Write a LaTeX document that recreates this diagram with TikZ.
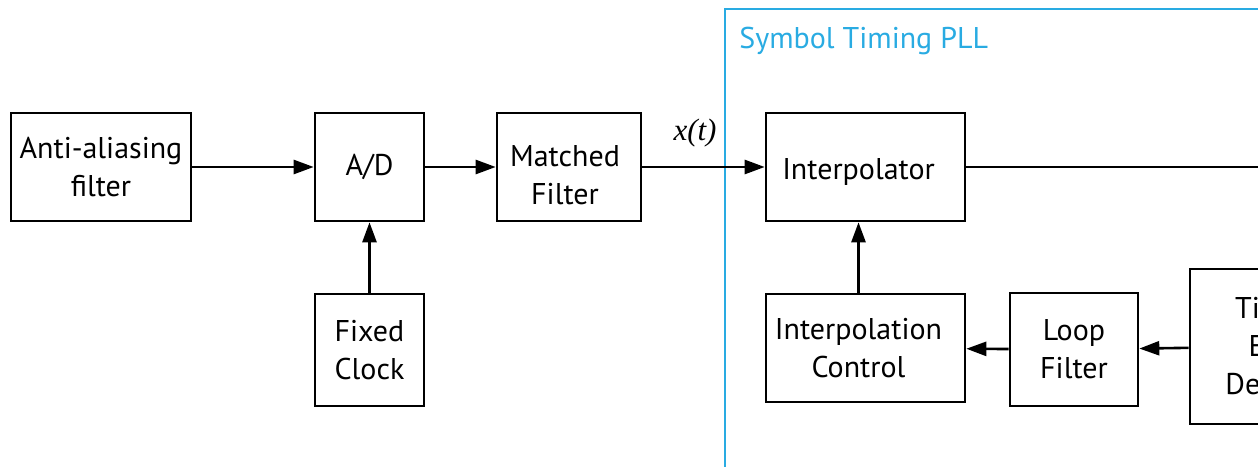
\documentclass[tikz,border=0pt]{standalone}
\usepackage{fontspec}
\setmainfont{PT Sans}
\newfontfamily\sigfont{Liberation Serif}
\usetikzlibrary{arrows.meta}
\definecolor{pllblue}{RGB}{41,171,226}
\tikzset{
  blockfont/.style={font=\fontsize{15}{19}\selectfont},
  block/.style={draw, line width=1.3pt, align=center, inner sep=2pt, blockfont},
  sig/.style={line width=1.3pt, -{Triangle[length=10pt,width=7pt]}},
}

\begin{document}
\begin{tikzpicture}[x=0.5pt, y=-0.5pt]
    \clip (0,0) rectangle (1258,466);

    % PLL frame and title
    \draw[pllblue, line width=1pt] (725,480) -- (725,9) -- (1270,9);
    \node[pllblue, anchor=north west, inner sep=0pt,
      font=\fontsize{15}{18}\selectfont] (plltitle) at (739,27) {Symbol Timing PLL};

    % Front end
    \node[block, minimum width=90pt, minimum height=54pt] (aaf) at (101,167) {Anti-aliasing\\filter};
    \node[block, minimum width=54.5pt, minimum height=54pt] (adc) at (369.5,167) {A/D};
    \node[block, minimum width=72pt, minimum height=54pt,
      label={[blockfont, align=center, xshift=-2pt, yshift=-4pt]center:Matched\\Filter}] (mfilt) at (569,167) {};
    \node[block, minimum width=54.5pt, minimum height=56pt] (clk) at (369.5,350) {Fixed\\Clock};

    % Loop blocks (text sits a little left of centre)
    \node[block, minimum width=99.5pt, minimum height=54pt,
      label={[blockfont, xshift=-3.5pt, yshift=-2.5pt]center:Interpolator}] (interp) at (865.5,167) {};
    \node[block, minimum width=99.5pt, minimum height=54pt,
      label={[blockfont, align=center, xshift=-3.5pt]center:Interpolation\\Control}] (ictrl) at (865.5,348) {};
    \node[block, minimum width=64pt, minimum height=56.5pt] (lfilt) at (1074,349.5) {Loop\\Filter};
    \node[block, minimum width=90pt, minimum height=77.5pt] (ted) at (1280,346.5) {Timing\\Error\\Detector};
    \coordinate (out) at (1262,167);

    % Signal path
    \draw[sig] (aaf) -- (adc);
    \draw[sig] (adc) -- (mfilt);
    \draw[sig] (mfilt) -- (interp);
    \node[anchor=base, inner sep=0pt, font=\sigfont\itshape\fontsize{15.5}{18}\selectfont] (xt) at (695,140) {x(t)};
    \draw[sig] (clk) -- (adc);
    \draw[line width=1.3pt] (interp) -- (out);

    % Feedback
    \draw[sig] (ted) -- (lfilt);
    \draw[sig] (lfilt) -- (ictrl);
    \draw[sig] ([xshift=-3.5pt]ictrl.north) -- ([xshift=-3.5pt]interp.south);
\end{tikzpicture}
\end{document}
